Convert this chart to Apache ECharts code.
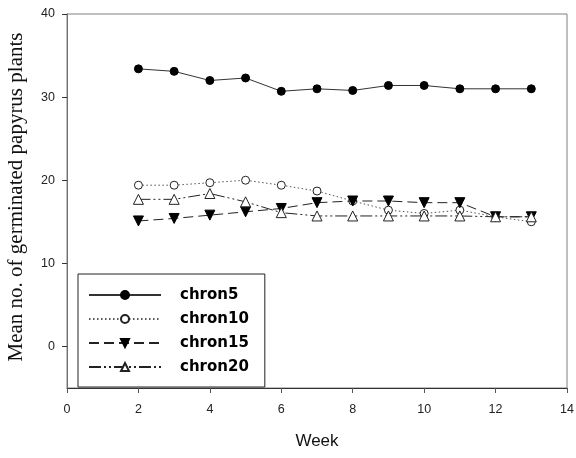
<!DOCTYPE html>
<html>
<head>
<meta charset="utf-8">
<script src="https://cdn.jsdelivr.net/npm/echarts@6/dist/echarts.min.js"></script>
<style>
  html, body { margin: 0; padding: 0; background: #fff; }
  #chart { width: 576px; height: 458px; }
</style>
</head>
<body>
<div id="chart"></div>
<script>
// Weeks after sowing
const weeks = [2, 3, 4, 5, 6, 7, 8, 9, 10, 11, 12, 13];

// Mean number of germinated papyrus plants per treatment
const chron5  = [33.4, 33.1, 32.0, 32.3, 30.7, 31.0, 30.8, 31.4, 31.4, 31.0, 31.0, 31.0];
const chron10 = [19.4, 19.4, 19.7, 20.0, 19.4, 18.7, 17.5, 16.4, 16.0, 16.4, 15.6, 15.0];
const chron15 = [15.1, 15.4, 15.8, 16.2, 16.6, 17.3, 17.5, 17.5, 17.3, 17.3, 15.6, 15.6];
const chron20 = [17.7, 17.7, 18.4, 17.4, 16.1, 15.7, 15.7, 15.7, 15.7, 15.7, 15.6, 15.6];

// Axis ticks
const xTicks = [0, 2, 4, 6, 8, 10, 12, 14];
const yTicks = [0, 10, 20, 30, 40];

const pairs = (ys) => weeks.map((w, i) => [w, ys[i]]);

const chart = echarts.init(document.getElementById('chart'), null, { renderer: 'canvas' });

const tickFont = { fontFamily: 'Liberation Sans', fontSize: 12.5, color: '#222' };

function lineSeries(name, data, opts) {
  return Object.assign({
    name: name,
    type: 'line',
    data: pairs(data),
    symbolSize: 8,
    showSymbol: true,
    animation: false,
    lineStyle: { color: '#333', width: 1 },
    itemStyle: { color: '#000', borderColor: '#000', borderWidth: 1 }
  }, opts);
}

chart.setOption({
  backgroundColor: '#fff',
  animation: false,
  grid: {
    left: 67, right: 9, top: 14, bottom: 70,
    outerBoundsMode: 'none',
    containLabel: false,
    show: true, borderColor: '#808080', borderWidth: 1,
    backgroundColor: 'transparent'
  },
  xAxis: {
    type: 'value',
    min: 0, max: 14, interval: 2,
    name: 'Week',
    nameLocation: 'middle',
    nameGap: 45,
    nameTextStyle: { fontFamily: 'Liberation Sans', fontSize: 17, color: '#111' },
    axisLine: { show: true, onZero: false, lineStyle: { color: '#333', width: 1 } },
    axisTick: { show: true, inside: false, length: 5, lineStyle: { color: '#555' } },
    axisLabel: Object.assign({ margin: 15, formatter: (v) => xTicks.includes(v) ? String(v) : '' }, tickFont),
    splitLine: { show: false }
  },
  yAxis: {
    type: 'value',
    min: -5, max: 40,
    name: 'Mean no. of germinated papyrus plants',
    nameLocation: 'middle',
    nameGap: 40,
    nameTextStyle: { fontFamily: 'Liberation Serif', fontSize: 21, color: '#111', padding: [0, 0, 0, 8] },
    axisLine: { show: true, onZero: false, lineStyle: { color: '#707070', width: 1 } },
    axisTick: { show: true, inside: false, length: 5, customValues: yTicks, lineStyle: { color: '#333' } },
    axisLabel: Object.assign({ margin: 12, customValues: yTicks }, tickFont),
    splitLine: { show: false }
  },
  legend: {
    orient: 'vertical',
    left: 78, top: 274,
    padding: [13, 16, 12, 10],
    backgroundColor: '#fff',
    borderColor: '#222',
    borderWidth: 1,
    itemWidth: 72,
    itemHeight: 10,
    itemGap: 8,
    textStyle: {
      fontFamily: 'DejaVu Sans', fontWeight: 'bold', fontSize: 15, color: '#000',
      lineHeight: 16,
      padding: [0, 0, 0, 14]
    },
    data: ['chron5', 'chron10', 'chron15', 'chron20']
  },
  series: [
    lineSeries('chron5', chron5, {
      symbol: 'circle',
      z: 5
    }),
    lineSeries('chron10', chron10, {
      symbol: 'circle',
      lineStyle: { color: '#555', width: 1, type: [1.5, 2.5] },
      itemStyle: { color: '#fff', borderColor: '#222', borderWidth: 1 },
      z: 3
    }),
    lineSeries('chron15', chron15, {
      symbol: 'triangle',
      symbolRotate: 180,
      symbolSize: 10,
      lineStyle: { color: '#222', width: 1, type: [10, 5] },
      z: 4
    }),
    lineSeries('chron20', chron20, {
      symbol: 'triangle',
      symbolSize: 10,
      lineStyle: { color: '#222', width: 1, type: [12, 3, 2, 3, 2, 3] },
      itemStyle: { color: '#fff', borderColor: '#222', borderWidth: 1 },
      z: 4
    })
  ]
});
</script>
</body>
</html>
